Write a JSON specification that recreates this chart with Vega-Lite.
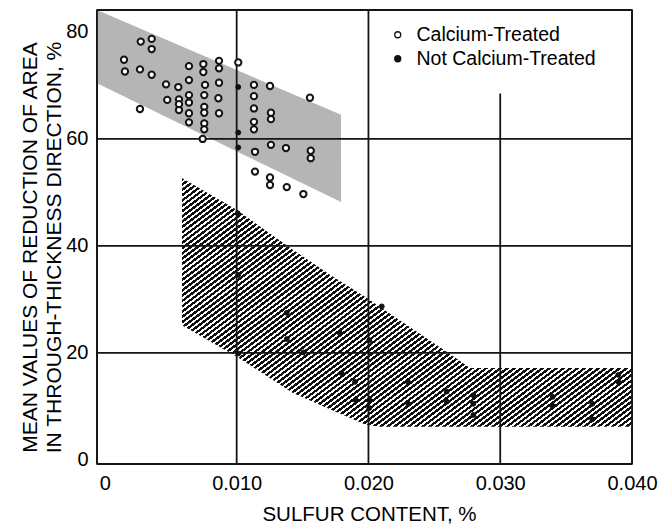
{
  "$schema": "https://vega.github.io/schema/vega-lite/v6.json",
  "width": 535,
  "height": 454,
  "autosize": {"type": "none"},
  "padding": {"left": 97, "top": 10, "right": 27, "bottom": 64},
  "background": "#ffffff",
  "config": {
    "view": {"stroke": "#111111", "strokeWidth": 1.6},
    "font": "Liberation Sans"
  },
  "datasets": {
    "gray": [
      {"sulfur": -0.0006, "top": 84.1, "bottom": 70.4},
      {"sulfur": 0.01792, "top": 64.5, "bottom": 48.2}
    ],
    "hatch": [
      {"sulfur": 0.00585, "top": 52.7, "bottom": 25.2},
      {"sulfur": 0.01002, "top": 46.7, "bottom": 19.3},
      {"sulfur": 0.01427, "top": 39.3, "bottom": 12.5},
      {"sulfur": 0.01708, "top": 34.6, "bottom": 9.5},
      {"sulfur": 0.01980, "top": 30.4, "bottom": 6.6},
      {"sulfur": 0.02088, "top": 28.6, "bottom": 6.2},
      {"sulfur": 0.02596, "top": 20.2, "bottom": 6.2},
      {"sulfur": 0.02771, "top": 17.2, "bottom": 6.2},
      {"sulfur": 0.0400, "top": 17.2, "bottom": 6.2}
    ],
    "lines": [
      {"xa": 0.01, "xb": 0.01, "ya": 84.1, "yb": -0.75},
      {"xa": 0.02, "xb": 0.02, "ya": 84.1, "yb": -0.75},
      {"xa": 0.03, "xb": 0.03, "ya": 68.5, "yb": -0.75},
      {"xa": -0.0006, "xb": 0.04, "ya": 20, "yb": 20},
      {"xa": -0.0006, "xb": 0.04, "ya": 40, "yb": 40},
      {"xa": -0.0006, "xb": 0.04, "ya": 60, "yb": 60},
      {"xa": -0.0006, "xb": -0.0006, "ya": 84.1, "yb": -0.75},
      {"xa": 0.04, "xb": 0.04, "ya": 84.1, "yb": -0.75},
      {"xa": -0.0006, "xb": 0.04, "ya": 84.1, "yb": 84.1},
      {"xa": -0.0006, "xb": 0.04, "ya": -0.75, "yb": -0.75}
    ],
    "pts": [
      {"sulfur": 0.00272, "ra": 78.2, "treatment": "Calcium-Treated"},
      {"sulfur": 0.00355, "ra": 78.7, "treatment": "Calcium-Treated"},
      {"sulfur": 0.00355, "ra": 76.8, "treatment": "Calcium-Treated"},
      {"sulfur": 0.00145, "ra": 74.8, "treatment": "Calcium-Treated"},
      {"sulfur": 0.00152, "ra": 72.6, "treatment": "Calcium-Treated"},
      {"sulfur": 0.00266, "ra": 73.0, "treatment": "Calcium-Treated"},
      {"sulfur": 0.00355, "ra": 72.0, "treatment": "Calcium-Treated"},
      {"sulfur": 0.00266, "ra": 65.6, "treatment": "Calcium-Treated"},
      {"sulfur": 0.00464, "ra": 70.2, "treatment": "Calcium-Treated"},
      {"sulfur": 0.00473, "ra": 67.3, "treatment": "Calcium-Treated"},
      {"sulfur": 0.00557, "ra": 69.7, "treatment": "Calcium-Treated"},
      {"sulfur": 0.00562, "ra": 67.4, "treatment": "Calcium-Treated"},
      {"sulfur": 0.00562, "ra": 66.5, "treatment": "Calcium-Treated"},
      {"sulfur": 0.00562, "ra": 65.4, "treatment": "Calcium-Treated"},
      {"sulfur": 0.00638, "ra": 73.6, "treatment": "Calcium-Treated"},
      {"sulfur": 0.00638, "ra": 71.0, "treatment": "Calcium-Treated"},
      {"sulfur": 0.00638, "ra": 68.2, "treatment": "Calcium-Treated"},
      {"sulfur": 0.00638, "ra": 66.8, "treatment": "Calcium-Treated"},
      {"sulfur": 0.00638, "ra": 64.8, "treatment": "Calcium-Treated"},
      {"sulfur": 0.00638, "ra": 63.1, "treatment": "Calcium-Treated"},
      {"sulfur": 0.00747, "ra": 74.0, "treatment": "Calcium-Treated"},
      {"sulfur": 0.00747, "ra": 72.5, "treatment": "Calcium-Treated"},
      {"sulfur": 0.00760, "ra": 70.1, "treatment": "Calcium-Treated"},
      {"sulfur": 0.00754, "ra": 68.2, "treatment": "Calcium-Treated"},
      {"sulfur": 0.00754, "ra": 66.0, "treatment": "Calcium-Treated"},
      {"sulfur": 0.00754, "ra": 64.9, "treatment": "Calcium-Treated"},
      {"sulfur": 0.00754, "ra": 62.9, "treatment": "Calcium-Treated"},
      {"sulfur": 0.00754, "ra": 61.8, "treatment": "Calcium-Treated"},
      {"sulfur": 0.00742, "ra": 60.0, "treatment": "Calcium-Treated"},
      {"sulfur": 0.00866, "ra": 74.6, "treatment": "Calcium-Treated"},
      {"sulfur": 0.00866, "ra": 73.2, "treatment": "Calcium-Treated"},
      {"sulfur": 0.00866, "ra": 70.5, "treatment": "Calcium-Treated"},
      {"sulfur": 0.00861, "ra": 67.6, "treatment": "Calcium-Treated"},
      {"sulfur": 0.00866, "ra": 64.8, "treatment": "Calcium-Treated"},
      {"sulfur": 0.01012, "ra": 74.3, "treatment": "Calcium-Treated"},
      {"sulfur": 0.01131, "ra": 70.1, "treatment": "Calcium-Treated"},
      {"sulfur": 0.01131, "ra": 68.0, "treatment": "Calcium-Treated"},
      {"sulfur": 0.01131, "ra": 65.7, "treatment": "Calcium-Treated"},
      {"sulfur": 0.01131, "ra": 63.2, "treatment": "Calcium-Treated"},
      {"sulfur": 0.01131, "ra": 61.8, "treatment": "Calcium-Treated"},
      {"sulfur": 0.01139, "ra": 57.6, "treatment": "Calcium-Treated"},
      {"sulfur": 0.01253, "ra": 69.9, "treatment": "Calcium-Treated"},
      {"sulfur": 0.01260, "ra": 64.9, "treatment": "Calcium-Treated"},
      {"sulfur": 0.01260, "ra": 63.7, "treatment": "Calcium-Treated"},
      {"sulfur": 0.01260, "ra": 58.9, "treatment": "Calcium-Treated"},
      {"sulfur": 0.01374, "ra": 58.3, "treatment": "Calcium-Treated"},
      {"sulfur": 0.01556, "ra": 67.7, "treatment": "Calcium-Treated"},
      {"sulfur": 0.01562, "ra": 57.8, "treatment": "Calcium-Treated"},
      {"sulfur": 0.01562, "ra": 56.4, "treatment": "Calcium-Treated"},
      {"sulfur": 0.01139, "ra": 53.9, "treatment": "Calcium-Treated"},
      {"sulfur": 0.01253, "ra": 52.8, "treatment": "Calcium-Treated"},
      {"sulfur": 0.01253, "ra": 51.4, "treatment": "Calcium-Treated"},
      {"sulfur": 0.01380, "ra": 51.0, "treatment": "Calcium-Treated"},
      {"sulfur": 0.01506, "ra": 49.7, "treatment": "Calcium-Treated"},
      {"sulfur": 0.01012, "ra": 69.7, "treatment": "Not Calcium-Treated"},
      {"sulfur": 0.01012, "ra": 61.2, "treatment": "Not Calcium-Treated"},
      {"sulfur": 0.01012, "ra": 58.4, "treatment": "Not Calcium-Treated"},
      {"sulfur": 0.01008, "ra": 46.1, "treatment": "Not Calcium-Treated"},
      {"sulfur": 0.01012, "ra": 34.6, "treatment": "Not Calcium-Treated"},
      {"sulfur": 0.01012, "ra": 19.9, "treatment": "Not Calcium-Treated"},
      {"sulfur": 0.01380, "ra": 27.5, "treatment": "Not Calcium-Treated"},
      {"sulfur": 0.01380, "ra": 22.6, "treatment": "Not Calcium-Treated"},
      {"sulfur": 0.01506, "ra": 20.1, "treatment": "Not Calcium-Treated"},
      {"sulfur": 0.01784, "ra": 23.7, "treatment": "Not Calcium-Treated"},
      {"sulfur": 0.01797, "ra": 16.2, "treatment": "Not Calcium-Treated"},
      {"sulfur": 0.01898, "ra": 14.6, "treatment": "Not Calcium-Treated"},
      {"sulfur": 0.01903, "ra": 11.2, "treatment": "Not Calcium-Treated"},
      {"sulfur": 0.02006, "ra": 22.4, "treatment": "Not Calcium-Treated"},
      {"sulfur": 0.02006, "ra": 11.2, "treatment": "Not Calcium-Treated"},
      {"sulfur": 0.02006, "ra": 9.7, "treatment": "Not Calcium-Treated"},
      {"sulfur": 0.02101, "ra": 28.7, "treatment": "Not Calcium-Treated"},
      {"sulfur": 0.02302, "ra": 14.5, "treatment": "Not Calcium-Treated"},
      {"sulfur": 0.02302, "ra": 10.5, "treatment": "Not Calcium-Treated"},
      {"sulfur": 0.02594, "ra": 12.8, "treatment": "Not Calcium-Treated"},
      {"sulfur": 0.02594, "ra": 10.9, "treatment": "Not Calcium-Treated"},
      {"sulfur": 0.02796, "ra": 12.1, "treatment": "Not Calcium-Treated"},
      {"sulfur": 0.02796, "ra": 10.5, "treatment": "Not Calcium-Treated"},
      {"sulfur": 0.02796, "ra": 8.4, "treatment": "Not Calcium-Treated"},
      {"sulfur": 0.03398, "ra": 11.8, "treatment": "Not Calcium-Treated"},
      {"sulfur": 0.03398, "ra": 10.1, "treatment": "Not Calcium-Treated"},
      {"sulfur": 0.03699, "ra": 10.5, "treatment": "Not Calcium-Treated"},
      {"sulfur": 0.03699, "ra": 7.6, "treatment": "Not Calcium-Treated"},
      {"sulfur": 0.03896, "ra": 15.9, "treatment": "Not Calcium-Treated"},
      {"sulfur": 0.03896, "ra": 14.6, "treatment": "Not Calcium-Treated"}
    ]
  },
  "encoding": {
    "x": {
      "field": "sulfur", "type": "quantitative",
      "scale": {"domain": [-0.0006, 0.04], "nice": false, "zero": false},
      "axis": {
        "values": [0, 0.01, 0.02, 0.03, 0.04],
        "labelExpr": "datum.value == 0 ? '0' : format(datum.value, '.3f')",
        "title": "SULFUR CONTENT, %",
        "grid": false, "ticks": false, "domain": false,
        "labelFont": "Liberation Sans", "labelFontSize": 20, "labelColor": "#000000", "labelPadding": 9,
        "labelFlush": false, "labelOverlap": false,
        "titleFont": "Liberation Sans", "titleFontSize": 20.5, "titleFontWeight": "normal", "titleColor": "#000000",
        "titleX": 272, "titleY": 50, "titleBaseline": "middle", "titleAnchor": null
      }
    },
    "y": {
      "field": "ra", "type": "quantitative",
      "scale": {"domain": [-0.75, 84.1], "nice": false, "zero": false},
      "axis": {
        "values": [0, 20, 40, 60, 80],
        "title": ["MEAN VALUES OF REDUCTION OF AREA", "IN THROUGH-THICKNESS DIRECTION, %"],
        "grid": false, "ticks": false, "domain": false,
        "labelFont": "Liberation Sans", "labelFontSize": 20, "labelColor": "#000000", "labelPadding": 9,
        "labelFlush": false, "labelOverlap": false,
        "titleFont": "Liberation Sans", "titleFontSize": 21, "titleFontWeight": "normal", "titleColor": "#000000",
        "titleAngle": -90, "titleX": -67, "titleY": 237, "titleBaseline": "middle", "titleAlign": "center",
        "titleLineHeight": 24
      }
    }
  },
  "layer": [
    {
      "data": {"name": "gray"},
      "mark": {"type": "area", "color": "#b5b5b5", "opacity": 1},
      "encoding": {
        "x": {"field": "sulfur", "type": "quantitative"},
        "y": {"field": "top", "type": "quantitative"},
        "y2": {"field": "bottom"}
      }
    },
    {
      "data": {"name": "hatch"},
      "mark": {
        "type": "area", "opacity": 1,
        "fill": {
          "gradient": "linear", "x1": 0, "y1": 0, "x2": 1.1267, "y2": 0.8275,
          "stops": [
{"offset":0,"color":"#111"},{"offset":0.005,"color":"#111"},{"offset":0.005,"color":"#fff"},{"offset":0.009,"color":"#fff"},
{"offset":0.009,"color":"#111"},{"offset":0.014,"color":"#111"},{"offset":0.014,"color":"#fff"},{"offset":0.018,"color":"#fff"},
{"offset":0.018,"color":"#111"},{"offset":0.023,"color":"#111"},{"offset":0.023,"color":"#fff"},{"offset":0.027,"color":"#fff"},
{"offset":0.027,"color":"#111"},{"offset":0.032,"color":"#111"},{"offset":0.032,"color":"#fff"},{"offset":0.036,"color":"#fff"},
{"offset":0.036,"color":"#111"},{"offset":0.041,"color":"#111"},{"offset":0.041,"color":"#fff"},{"offset":0.045,"color":"#fff"},
{"offset":0.045,"color":"#111"},{"offset":0.050,"color":"#111"},{"offset":0.050,"color":"#fff"},{"offset":0.054,"color":"#fff"},
{"offset":0.054,"color":"#111"},{"offset":0.059,"color":"#111"},{"offset":0.059,"color":"#fff"},{"offset":0.063,"color":"#fff"},
{"offset":0.063,"color":"#111"},{"offset":0.068,"color":"#111"},{"offset":0.068,"color":"#fff"},{"offset":0.072,"color":"#fff"},
{"offset":0.072,"color":"#111"},{"offset":0.077,"color":"#111"},{"offset":0.077,"color":"#fff"},{"offset":0.081,"color":"#fff"},
{"offset":0.081,"color":"#111"},{"offset":0.086,"color":"#111"},{"offset":0.086,"color":"#fff"},{"offset":0.090,"color":"#fff"},
{"offset":0.090,"color":"#111"},{"offset":0.095,"color":"#111"},{"offset":0.095,"color":"#fff"},{"offset":0.099,"color":"#fff"},
{"offset":0.099,"color":"#111"},{"offset":0.104,"color":"#111"},{"offset":0.104,"color":"#fff"},{"offset":0.108,"color":"#fff"},
{"offset":0.108,"color":"#111"},{"offset":0.113,"color":"#111"},{"offset":0.113,"color":"#fff"},{"offset":0.117,"color":"#fff"},
{"offset":0.117,"color":"#111"},{"offset":0.122,"color":"#111"},{"offset":0.122,"color":"#fff"},{"offset":0.126,"color":"#fff"},
{"offset":0.126,"color":"#111"},{"offset":0.131,"color":"#111"},{"offset":0.131,"color":"#fff"},{"offset":0.135,"color":"#fff"},
{"offset":0.135,"color":"#111"},{"offset":0.140,"color":"#111"},{"offset":0.140,"color":"#fff"},{"offset":0.144,"color":"#fff"},
{"offset":0.144,"color":"#111"},{"offset":0.149,"color":"#111"},{"offset":0.149,"color":"#fff"},{"offset":0.153,"color":"#fff"},
{"offset":0.153,"color":"#111"},{"offset":0.158,"color":"#111"},{"offset":0.158,"color":"#fff"},{"offset":0.162,"color":"#fff"},
{"offset":0.162,"color":"#111"},{"offset":0.167,"color":"#111"},{"offset":0.167,"color":"#fff"},{"offset":0.171,"color":"#fff"},
{"offset":0.171,"color":"#111"},{"offset":0.176,"color":"#111"},{"offset":0.176,"color":"#fff"},{"offset":0.180,"color":"#fff"},
{"offset":0.180,"color":"#111"},{"offset":0.185,"color":"#111"},{"offset":0.185,"color":"#fff"},{"offset":0.189,"color":"#fff"},
{"offset":0.189,"color":"#111"},{"offset":0.194,"color":"#111"},{"offset":0.194,"color":"#fff"},{"offset":0.198,"color":"#fff"},
{"offset":0.198,"color":"#111"},{"offset":0.203,"color":"#111"},{"offset":0.203,"color":"#fff"},{"offset":0.207,"color":"#fff"},
{"offset":0.207,"color":"#111"},{"offset":0.212,"color":"#111"},{"offset":0.212,"color":"#fff"},{"offset":0.216,"color":"#fff"},
{"offset":0.216,"color":"#111"},{"offset":0.221,"color":"#111"},{"offset":0.221,"color":"#fff"},{"offset":0.225,"color":"#fff"},
{"offset":0.225,"color":"#111"},{"offset":0.230,"color":"#111"},{"offset":0.230,"color":"#fff"},{"offset":0.234,"color":"#fff"},
{"offset":0.234,"color":"#111"},{"offset":0.239,"color":"#111"},{"offset":0.239,"color":"#fff"},{"offset":0.243,"color":"#fff"},
{"offset":0.243,"color":"#111"},{"offset":0.248,"color":"#111"},{"offset":0.248,"color":"#fff"},{"offset":0.252,"color":"#fff"},
{"offset":0.252,"color":"#111"},{"offset":0.257,"color":"#111"},{"offset":0.257,"color":"#fff"},{"offset":0.261,"color":"#fff"},
{"offset":0.261,"color":"#111"},{"offset":0.266,"color":"#111"},{"offset":0.266,"color":"#fff"},{"offset":0.270,"color":"#fff"},
{"offset":0.270,"color":"#111"},{"offset":0.275,"color":"#111"},{"offset":0.275,"color":"#fff"},{"offset":0.279,"color":"#fff"},
{"offset":0.279,"color":"#111"},{"offset":0.284,"color":"#111"},{"offset":0.284,"color":"#fff"},{"offset":0.288,"color":"#fff"},
{"offset":0.288,"color":"#111"},{"offset":0.293,"color":"#111"},{"offset":0.293,"color":"#fff"},{"offset":0.297,"color":"#fff"},
{"offset":0.297,"color":"#111"},{"offset":0.302,"color":"#111"},{"offset":0.302,"color":"#fff"},{"offset":0.306,"color":"#fff"},
{"offset":0.306,"color":"#111"},{"offset":0.311,"color":"#111"},{"offset":0.311,"color":"#fff"},{"offset":0.315,"color":"#fff"},
{"offset":0.315,"color":"#111"},{"offset":0.320,"color":"#111"},{"offset":0.320,"color":"#fff"},{"offset":0.324,"color":"#fff"},
{"offset":0.324,"color":"#111"},{"offset":0.329,"color":"#111"},{"offset":0.329,"color":"#fff"},{"offset":0.333,"color":"#fff"},
{"offset":0.333,"color":"#111"},{"offset":0.338,"color":"#111"},{"offset":0.338,"color":"#fff"},{"offset":0.342,"color":"#fff"},
{"offset":0.342,"color":"#111"},{"offset":0.347,"color":"#111"},{"offset":0.347,"color":"#fff"},{"offset":0.351,"color":"#fff"},
{"offset":0.351,"color":"#111"},{"offset":0.356,"color":"#111"},{"offset":0.356,"color":"#fff"},{"offset":0.360,"color":"#fff"},
{"offset":0.360,"color":"#111"},{"offset":0.365,"color":"#111"},{"offset":0.365,"color":"#fff"},{"offset":0.369,"color":"#fff"},
{"offset":0.369,"color":"#111"},{"offset":0.374,"color":"#111"},{"offset":0.374,"color":"#fff"},{"offset":0.378,"color":"#fff"},
{"offset":0.378,"color":"#111"},{"offset":0.383,"color":"#111"},{"offset":0.383,"color":"#fff"},{"offset":0.387,"color":"#fff"},
{"offset":0.387,"color":"#111"},{"offset":0.392,"color":"#111"},{"offset":0.392,"color":"#fff"},{"offset":0.396,"color":"#fff"},
{"offset":0.396,"color":"#111"},{"offset":0.401,"color":"#111"},{"offset":0.401,"color":"#fff"},{"offset":0.405,"color":"#fff"},
{"offset":0.405,"color":"#111"},{"offset":0.410,"color":"#111"},{"offset":0.410,"color":"#fff"},{"offset":0.414,"color":"#fff"},
{"offset":0.414,"color":"#111"},{"offset":0.419,"color":"#111"},{"offset":0.419,"color":"#fff"},{"offset":0.423,"color":"#fff"},
{"offset":0.423,"color":"#111"},{"offset":0.428,"color":"#111"},{"offset":0.428,"color":"#fff"},{"offset":0.432,"color":"#fff"},
{"offset":0.432,"color":"#111"},{"offset":0.437,"color":"#111"},{"offset":0.437,"color":"#fff"},{"offset":0.441,"color":"#fff"},
{"offset":0.441,"color":"#111"},{"offset":0.446,"color":"#111"},{"offset":0.446,"color":"#fff"},{"offset":0.450,"color":"#fff"},
{"offset":0.450,"color":"#111"},{"offset":0.455,"color":"#111"},{"offset":0.455,"color":"#fff"},{"offset":0.459,"color":"#fff"},
{"offset":0.459,"color":"#111"},{"offset":0.464,"color":"#111"},{"offset":0.464,"color":"#fff"},{"offset":0.468,"color":"#fff"},
{"offset":0.468,"color":"#111"},{"offset":0.473,"color":"#111"},{"offset":0.473,"color":"#fff"},{"offset":0.477,"color":"#fff"},
{"offset":0.477,"color":"#111"},{"offset":0.482,"color":"#111"},{"offset":0.482,"color":"#fff"},{"offset":0.486,"color":"#fff"},
{"offset":0.486,"color":"#111"},{"offset":0.491,"color":"#111"},{"offset":0.491,"color":"#fff"},{"offset":0.495,"color":"#fff"},
{"offset":0.495,"color":"#111"},{"offset":0.500,"color":"#111"},{"offset":0.500,"color":"#fff"},{"offset":0.504,"color":"#fff"},
{"offset":0.504,"color":"#111"},{"offset":0.509,"color":"#111"},{"offset":0.509,"color":"#fff"},{"offset":0.513,"color":"#fff"},
{"offset":0.513,"color":"#111"},{"offset":0.518,"color":"#111"},{"offset":0.518,"color":"#fff"},{"offset":0.522,"color":"#fff"},
{"offset":0.522,"color":"#111"},{"offset":0.527,"color":"#111"},{"offset":0.527,"color":"#fff"},{"offset":0.531,"color":"#fff"},
{"offset":0.531,"color":"#111"},{"offset":0.536,"color":"#111"},{"offset":0.536,"color":"#fff"},{"offset":0.540,"color":"#fff"},
{"offset":0.540,"color":"#111"},{"offset":0.545,"color":"#111"},{"offset":0.545,"color":"#fff"},{"offset":0.549,"color":"#fff"},
{"offset":0.549,"color":"#111"},{"offset":0.554,"color":"#111"},{"offset":0.554,"color":"#fff"},{"offset":0.558,"color":"#fff"},
{"offset":0.558,"color":"#111"},{"offset":0.563,"color":"#111"},{"offset":0.563,"color":"#fff"},{"offset":0.567,"color":"#fff"},
{"offset":0.567,"color":"#111"},{"offset":0.572,"color":"#111"},{"offset":0.572,"color":"#fff"},{"offset":0.576,"color":"#fff"},
{"offset":0.576,"color":"#111"},{"offset":0.581,"color":"#111"},{"offset":0.581,"color":"#fff"},{"offset":0.585,"color":"#fff"},
{"offset":0.585,"color":"#111"},{"offset":0.590,"color":"#111"},{"offset":0.590,"color":"#fff"},{"offset":0.594,"color":"#fff"},
{"offset":0.594,"color":"#111"},{"offset":0.599,"color":"#111"},{"offset":0.599,"color":"#fff"},{"offset":0.603,"color":"#fff"},
{"offset":0.603,"color":"#111"},{"offset":0.608,"color":"#111"},{"offset":0.608,"color":"#fff"},{"offset":0.612,"color":"#fff"},
{"offset":0.612,"color":"#111"},{"offset":0.617,"color":"#111"},{"offset":0.617,"color":"#fff"},{"offset":0.621,"color":"#fff"},
{"offset":0.621,"color":"#111"},{"offset":0.626,"color":"#111"},{"offset":0.626,"color":"#fff"},{"offset":0.630,"color":"#fff"},
{"offset":0.630,"color":"#111"},{"offset":0.635,"color":"#111"},{"offset":0.635,"color":"#fff"},{"offset":0.639,"color":"#fff"},
{"offset":0.639,"color":"#111"},{"offset":0.644,"color":"#111"},{"offset":0.644,"color":"#fff"},{"offset":0.648,"color":"#fff"},
{"offset":0.648,"color":"#111"},{"offset":0.653,"color":"#111"},{"offset":0.653,"color":"#fff"},{"offset":0.657,"color":"#fff"},
{"offset":0.657,"color":"#111"},{"offset":0.662,"color":"#111"},{"offset":0.662,"color":"#fff"},{"offset":0.666,"color":"#fff"},
{"offset":0.666,"color":"#111"},{"offset":0.671,"color":"#111"},{"offset":0.671,"color":"#fff"},{"offset":0.675,"color":"#fff"},
{"offset":0.675,"color":"#111"},{"offset":0.680,"color":"#111"},{"offset":0.680,"color":"#fff"},{"offset":0.684,"color":"#fff"},
{"offset":0.684,"color":"#111"},{"offset":0.689,"color":"#111"},{"offset":0.689,"color":"#fff"},{"offset":0.693,"color":"#fff"},
{"offset":0.693,"color":"#111"},{"offset":0.698,"color":"#111"},{"offset":0.698,"color":"#fff"},{"offset":0.702,"color":"#fff"},
{"offset":0.702,"color":"#111"},{"offset":0.707,"color":"#111"},{"offset":0.707,"color":"#fff"},{"offset":0.711,"color":"#fff"},
{"offset":0.711,"color":"#111"},{"offset":0.716,"color":"#111"},{"offset":0.716,"color":"#fff"},{"offset":0.720,"color":"#fff"},
{"offset":0.720,"color":"#111"},{"offset":0.725,"color":"#111"},{"offset":0.725,"color":"#fff"},{"offset":0.729,"color":"#fff"},
{"offset":0.729,"color":"#111"},{"offset":0.734,"color":"#111"},{"offset":0.734,"color":"#fff"},{"offset":0.738,"color":"#fff"},
{"offset":0.738,"color":"#111"},{"offset":0.743,"color":"#111"},{"offset":0.743,"color":"#fff"},{"offset":0.747,"color":"#fff"},
{"offset":0.747,"color":"#111"},{"offset":0.752,"color":"#111"},{"offset":0.752,"color":"#fff"},{"offset":0.756,"color":"#fff"},
{"offset":0.756,"color":"#111"},{"offset":0.761,"color":"#111"},{"offset":0.761,"color":"#fff"},{"offset":0.765,"color":"#fff"},
{"offset":0.765,"color":"#111"},{"offset":0.770,"color":"#111"},{"offset":0.770,"color":"#fff"},{"offset":0.774,"color":"#fff"},
{"offset":0.774,"color":"#111"},{"offset":0.779,"color":"#111"},{"offset":0.779,"color":"#fff"},{"offset":0.783,"color":"#fff"},
{"offset":0.783,"color":"#111"},{"offset":0.788,"color":"#111"},{"offset":0.788,"color":"#fff"},{"offset":0.792,"color":"#fff"},
{"offset":0.792,"color":"#111"},{"offset":0.797,"color":"#111"},{"offset":0.797,"color":"#fff"},{"offset":0.801,"color":"#fff"},
{"offset":0.801,"color":"#111"},{"offset":0.806,"color":"#111"},{"offset":0.806,"color":"#fff"},{"offset":0.810,"color":"#fff"},
{"offset":0.810,"color":"#111"},{"offset":0.815,"color":"#111"},{"offset":0.815,"color":"#fff"},{"offset":0.819,"color":"#fff"},
{"offset":0.819,"color":"#111"},{"offset":0.824,"color":"#111"},{"offset":0.824,"color":"#fff"},{"offset":0.828,"color":"#fff"},
{"offset":0.828,"color":"#111"},{"offset":0.833,"color":"#111"},{"offset":0.833,"color":"#fff"},{"offset":0.837,"color":"#fff"},
{"offset":0.837,"color":"#111"},{"offset":0.842,"color":"#111"},{"offset":0.842,"color":"#fff"},{"offset":0.846,"color":"#fff"},
{"offset":0.846,"color":"#111"},{"offset":0.851,"color":"#111"},{"offset":0.851,"color":"#fff"},{"offset":0.855,"color":"#fff"},
{"offset":0.855,"color":"#111"},{"offset":0.860,"color":"#111"},{"offset":0.860,"color":"#fff"},{"offset":0.864,"color":"#fff"},
{"offset":0.864,"color":"#111"},{"offset":0.869,"color":"#111"},{"offset":0.869,"color":"#fff"},{"offset":0.873,"color":"#fff"},
{"offset":0.873,"color":"#111"},{"offset":0.878,"color":"#111"},{"offset":0.878,"color":"#fff"},{"offset":0.882,"color":"#fff"},
{"offset":0.882,"color":"#111"},{"offset":0.887,"color":"#111"},{"offset":0.887,"color":"#fff"},{"offset":0.891,"color":"#fff"},
{"offset":0.891,"color":"#111"},{"offset":0.896,"color":"#111"},{"offset":0.896,"color":"#fff"},{"offset":0.900,"color":"#fff"},
{"offset":0.900,"color":"#111"},{"offset":0.905,"color":"#111"},{"offset":0.905,"color":"#fff"},{"offset":0.909,"color":"#fff"},
{"offset":0.909,"color":"#111"},{"offset":0.914,"color":"#111"},{"offset":0.914,"color":"#fff"},{"offset":0.918,"color":"#fff"},
{"offset":0.918,"color":"#111"},{"offset":0.923,"color":"#111"},{"offset":0.923,"color":"#fff"},{"offset":0.927,"color":"#fff"},
{"offset":0.927,"color":"#111"},{"offset":0.932,"color":"#111"},{"offset":0.932,"color":"#fff"},{"offset":0.936,"color":"#fff"},
{"offset":0.936,"color":"#111"},{"offset":0.941,"color":"#111"},{"offset":0.941,"color":"#fff"},{"offset":0.945,"color":"#fff"},
{"offset":0.945,"color":"#111"},{"offset":0.950,"color":"#111"},{"offset":0.950,"color":"#fff"},{"offset":0.954,"color":"#fff"},
{"offset":0.954,"color":"#111"},{"offset":0.959,"color":"#111"},{"offset":0.959,"color":"#fff"},{"offset":0.963,"color":"#fff"},
{"offset":0.963,"color":"#111"},{"offset":0.968,"color":"#111"},{"offset":0.968,"color":"#fff"},{"offset":0.972,"color":"#fff"},
{"offset":0.972,"color":"#111"},{"offset":0.977,"color":"#111"},{"offset":0.977,"color":"#fff"},{"offset":0.981,"color":"#fff"},
{"offset":0.981,"color":"#111"},{"offset":0.986,"color":"#111"},{"offset":0.986,"color":"#fff"},{"offset":0.990,"color":"#fff"},
{"offset":0.990,"color":"#111"},{"offset":0.995,"color":"#111"},{"offset":0.995,"color":"#fff"},{"offset":0.999,"color":"#fff"},
{"offset":0.999,"color":"#111"},{"offset":1,"color":"#111"}
          ]
        }
      },
      "encoding": {
        "x": {"field": "sulfur", "type": "quantitative"},
        "y": {"field": "top", "type": "quantitative"},
        "y2": {"field": "bottom"}
      }
    },
    {
      "data": {"name": "lines"},
      "mark": {"type": "rule", "color": "#151515", "strokeWidth": 1.8},
      "encoding": {
        "x": {"field": "xa", "type": "quantitative"},
        "x2": {"field": "xb"},
        "y": {"field": "ya", "type": "quantitative"},
        "y2": {"field": "yb"}
      }
    },
    {
      "data": {"name": "pts"},
      "transform": [{"filter": "datum.treatment == 'Calcium-Treated'"}],
      "mark": {"type": "point", "shape": "circle", "filled": true, "stroke": "#151515", "strokeWidth": 2, "size": 40, "opacity": 1},
      "encoding": {
        "x": {"field": "sulfur", "type": "quantitative"},
        "y": {"field": "ra", "type": "quantitative"},
        "fill": {
          "field": "treatment", "type": "nominal",
          "scale": {"domain": ["Calcium-Treated", "Not Calcium-Treated"], "range": ["#ffffff", "#111111"]},
          "legend": {
            "title": null, "orient": "none", "legendX": 291, "legendY": 15,
            "labelFont": "Liberation Sans", "labelFontSize": 19.5, "labelColor": "#000000", "labelLimit": 0,
            "labelOffset": 9, "rowPadding": 3, "padding": 0,
            "symbolType": "circle", "symbolSize": 36, "symbolStrokeColor": "#111111", "symbolStrokeWidth": 1.3
          }
        }
      }
    },
    {
      "data": {"name": "pts"},
      "transform": [{"filter": "datum.treatment == 'Not Calcium-Treated'"}],
      "mark": {"type": "point", "shape": "circle", "filled": true, "stroke": "#111111", "strokeWidth": 1, "size": 24, "opacity": 1},
      "encoding": {
        "x": {"field": "sulfur", "type": "quantitative"},
        "y": {"field": "ra", "type": "quantitative"},
        "fill": {"field": "treatment", "type": "nominal"}
      }
    }
  ]
}
